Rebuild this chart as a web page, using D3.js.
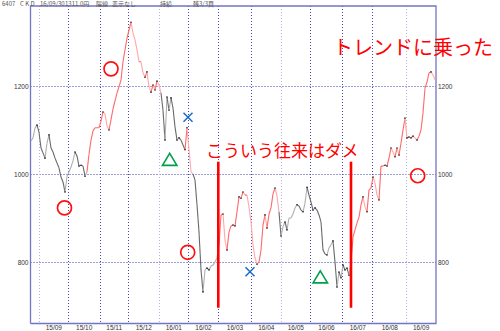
<!DOCTYPE html>
<html>
<head>
<meta charset="utf-8">
<script src="https://cdn.jsdelivr.net/npm/d3@7"></script>
<style>
  body { margin: 0; background: #fff; }
  svg { display: block; }
</style>
</head>
<body>
<svg id="chart" width="500" height="331"></svg>
<script>
// closing prices, sampled evenly from late Aug 2015 to 30 Sep 2016
const closes = [
  1075, 1082, 1105, 1111, 1095, 1059, 1048, 1036, 1070, 1089,
  1059, 1050, 1036, 1025, 1014, 993, 982, 959, 995, 1005,
  1016, 1030, 1050, 1041, 1018, 1020, 1018, 995, 1005, 1045,
  1077, 1098, 1105, 1105, 1105, 1120, 1141, 1136, 1109, 1100,
  1123, 1148, 1166, 1184, 1198, 1214, 1255, 1282, 1309, 1327,
  1345, 1320, 1305, 1282, 1255, 1255, 1230, 1220, 1232, 1198,
  1186, 1202, 1191, 1211, 1202, 1184, 1145, 1077, 1175, 1145,
  1173, 1150, 1107, 1077, 1082, 1077, 1066, 1055, 1105, 1055,
  1005, 1000, 986, 930, 868, 782, 732, 782, 786, 782,
  791, 793, 800, 809, 839, 907, 909, 850, 827, 868,
  882, 884, 882, 914, 948, 945, 959, 952, 952, 925,
  891, 839, 809, 795, 800, 827, 884, 907, 877, 909,
  923, 955, 968, 950, 914, 859, 880, 891, 873, 900,
  900, 909, 923, 930, 927, 918, 914, 934, 970, 952,
  936, 918, 923, 918, 907, 891, 827, 818, 816, 832,
  839, 848, 800, 743, 777, 764, 793, 782, 786, 770,
  800, 857, 873, 889, 902, 930, 948, 925, 914, 964,
  968, 993, 980, 952, 941, 1018, 1018, 1020, 1018, 1036,
  1059, 1050, 1039, 1059, 1043, 1070, 1100, 1127, 1082, 1084,
  1082, 1086, 1082, 1077, 1086, 1100, 1139, 1195, 1209, 1230,
  1232, 1225, 1214
];

// sample index ranges where the trend is up (drawn red)
const upTrend = [[28, 65], [77, 81], [94, 124], [160, 202]];

// month boundaries (sample index) and labels
const monthStarts = [4, 18.35, 34.35, 48.35, 64, 78.35, 93.65, 109.85, 125, 139.35, 155.65, 170.65, 187.65];
const monthLabels = ["15/09", "15/10", "15/11", "15/12", "16/01", "16/02", "16/03", "16/04", "16/05", "16/06", "16/07", "16/08", "16/09"];

const yTicks = [800, 1000, 1200];

// annotation marks (sample index, price)
const circles = [[16.75, 923], [40, 1239], [78.35, 822], [193.35, 996]];
const triangles = [[69.35, 1031], [144.65, 764]];
const crosses = [[78.5, 1129], [109.5, 778]];
const redBars = [[93.65, 1028, 696], [160, 1028, 696]];

const header = ["6407", "C K D", "16/09/30", "1311.0円", "陽線", "表示なし", "持続", "残3/3頁"];
const headerX = [2, 20, 40, 65, 96, 112, 160, 193];

const svg = d3.select('#chart');
const plotL = 30.5, plotR = 436, plotT = 6, plotB = 323.5;

const x = d3.scaleLinear()
    .domain([0, closes.length - 1])
    .range([31, 435]);

const y = d3.scaleLinear()
    .domain([1000, 1200])
    .range([174, 86]);

// grid
svg.append('g')
    .selectAll('line')
    .data(yTicks).enter()
    .append('line')
    .attr('x1', plotL).attr('x2', plotR)
    .attr('y1', d => y(d) + 0.5).attr('y2', d => y(d) + 0.5)
    .attr('stroke', '#3c3cb0')
    .attr('stroke-dasharray', '1,2');

svg.append('g')
    .selectAll('line')
    .data(monthStarts).enter()
    .append('line')
    .attr('x1', d => Math.round(x(d)) + 0.5).attr('x2', d => Math.round(x(d)) + 0.5)
    .attr('y1', plotT).attr('y2', plotB)
    .attr('stroke', (d, i) => i % 4 === 0 ? '#b4b4e6' : '#4848b4')
    .attr('stroke-dasharray', '1,2');

// frame
svg.append('path')
    .attr('d', `M${plotL},${plotB}V${plotT}H${plotR}V${plotB}H${plotL}`)
    .attr('fill', 'none')
    .attr('stroke', '#7474c4')
    .attr('stroke-width', 1.3);

// price line, one segment per step
const inUp = i => upTrend.some(r => i >= r[0] && i < r[1]);
const segs = d3.range(closes.length - 1);

svg.append('g')
    .selectAll('line')
    .data(segs).enter()
    .append('line')
    .attr('x1', i => x(i)).attr('y1', i => y(closes[i]))
    .attr('x2', i => x(i + 1)).attr('y2', i => y(closes[i + 1]))
    .attr('stroke', i => {
        const rising = closes[i + 1] >= closes[i];
        if (inUp(i)) return rising ? '#ff6a6a' : '#ffa8a8';
        return rising ? '#b0b0b0' : '#6a6a6a';
    })
    .attr('stroke-width', 1.1);

// dots on turning points
const turns = d3.range(1, closes.length - 1)
    .filter(i => (closes[i] - closes[i - 1]) * (closes[i + 1] - closes[i]) < 0);

svg.append('g')
    .selectAll('circle')
    .data(turns).enter()
    .append('circle')
    .attr('cx', i => x(i))
    .attr('cy', i => y(closes[i]))
    .attr('r', 0.8)
    .style('fill', '#222');

// axes
const axisFont = g => g.selectAll('text')
    .style('font-family', '"Liberation Sans Narrow", "Liberation Sans", sans-serif')
    .style('font-size', '6.5px')
    .style('fill', '#333');

svg.append('g')
    .attr('transform', `translate(${plotL},0)`)
    .call(d3.axisLeft(y).tickValues(yTicks).tickFormat(d3.format('d')).tickSize(0).tickPadding(2))
    .call(g => g.select('.domain').remove())
    .call(axisFont);

svg.append('g')
    .attr('transform', `translate(${plotR},0)`)
    .call(d3.axisRight(y).tickValues(yTicks).tickFormat(d3.format('d')).tickSize(0).tickPadding(2))
    .call(g => g.select('.domain').remove())
    .call(axisFont);

const monthEnds = monthStarts.slice(1).concat([closes.length - 1]);
const monthCenters = monthStarts.map((d, i) => (d + monthEnds[i]) / 2);

svg.append('g')
    .attr('transform', `translate(0,${plotB})`)
    .call(d3.axisBottom(x).tickValues(monthCenters)
        .tickFormat((d, i) => monthLabels[i]).tickSize(0).tickPadding(1.5))
    .call(g => g.select('.domain').remove())
    .call(axisFont);

// header line
svg.append('g')
    .selectAll('text')
    .data(header).enter()
    .append('text')
    .attr('x', (d, i) => headerX[i])
    .attr('y', 6)
    .style('font-family', '"Liberation Sans Narrow", "Noto Sans CJK JP", sans-serif')
    .style('font-size', '6px')
    .style('fill', '#555')
    .text(d => d);

// annotations
svg.append('g')
    .selectAll('circle')
    .data(circles).enter()
    .append('circle')
    .attr('cx', d => x(d[0]))
    .attr('cy', d => y(d[1]))
    .attr('r', 7)
    .attr('fill', 'none')
    .attr('stroke', '#ff1010')
    .attr('stroke-width', 1.7);

svg.append('g')
    .selectAll('path')
    .data(triangles).enter()
    .append('path')
    .attr('transform', d => `translate(${x(d[0])},${y(d[1])})`)
    .attr('d', 'M0,-7L7.2,5H-7.2Z')
    .attr('fill', 'none')
    .attr('stroke', '#00a04a')
    .attr('stroke-width', 1.6);

svg.append('g')
    .selectAll('path')
    .data(crosses).enter()
    .append('path')
    .attr('transform', d => `translate(${x(d[0])},${y(d[1])})`)
    .attr('d', 'M-4.5,-4.5L4.5,4.5M4.5,-4.5L-4.5,4.5')
    .attr('stroke', '#1a6cc8')
    .attr('stroke-width', 1.5);

svg.append('g')
    .selectAll('line')
    .data(redBars).enter()
    .append('line')
    .attr('x1', d => x(d[0])).attr('x2', d => x(d[0]))
    .attr('y1', d => y(d[1])).attr('y2', d => y(d[2]))
    .attr('stroke', '#ff0000')
    .attr('stroke-width', 2.6);

svg.append('text')
    .attr('x', 206).attr('y', 157)
    .style('font-family', '"Noto Sans CJK JP", sans-serif')
    .style('font-size', '17px')
    .style('fill', '#ff0000')
    .text('こういう往来はダメ');

svg.append('text')
    .attr('x', 333).attr('y', 55)
    .style('font-family', '"Noto Sans CJK JP", sans-serif')
    .style('font-size', '20px')
    .style('fill', '#ff0000')
    .text('トレンドに乗った');
</script>
</body>
</html>
